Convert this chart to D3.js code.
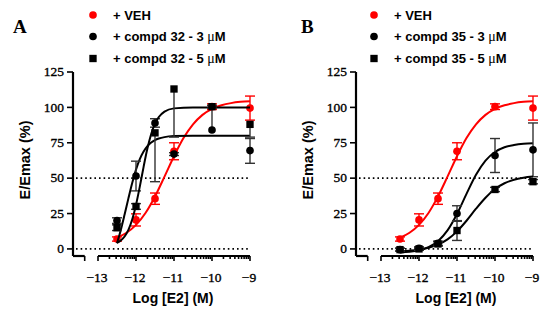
<!DOCTYPE html>
<html lang="en">
<head>
    <meta charset="UTF-8">
    <title>E/Emax vs Log [E2]</title>
    <script src="https://cdn.jsdelivr.net/npm/d3@7"></script>
    <style>
        body { margin: 0; background: #fff; }
        .axis .domain { stroke: #000; stroke-width: 2.2px; }
        .axis .tick line { stroke: #000; stroke-width: 1.6px; }
        .axis .tick text {
            fill: #000;
            stroke: #000;
            stroke-width: 0.35px;
            font-family: "Liberation Serif", "Times New Roman", serif;
            font-size: 13.5px;
        }
    </style>
</head>
<body>
    <svg id="chart" width="550" height="320"></svg>
    <script>
        // Data (log molar E2, response in %)
        const doseLog = [-12.5, -12, -11.5, -11, -10, -9];

        const vehMean = [7, 20.5, 35.5, 69, 100.5, 99.5];
        const vehSem = [1.5, 4.3, 4, 6, 2, 8.5];

        const c32LoMean = [20, 51.5, 89, 67, 84, 69.5];
        const c32LoUp = [2, 10.5, 3, 1, 16, 8.5];
        const c32LoDown = [2, 10.5, 3, 1, 0, 9];

        const c32HiMean = [15, 30, 82, 113, 100.5, 88];
        const c32HiUp = [2, 2, 0, 0, 1, 0];
        const c32HiDown = [2, 2, 34.5, 34, 1, 9];

        const c35LoMean = [-0.5, 0.5, 4, 25, 66, 70];
        const c35LoSem = [1, 1, 1.5, 5.5, 12, 19];

        const c35HiMean = [-0.5, 0, 3.5, 13, 42, 47.5];
        const c35HiSem = [1, 1, 1.5, 7, 1.5, 1.5];

        // Fitted curves
        const fitX = [-12.5, -12.25, -12, -11.75, -11.5, -11.25, -11, -10.75, -10.5, -10.25, -10, -9.75, -9.5, -9.25, -9];
        const fitXSteep = [-12.5, -12.4, -12.3, -12.2, -12.1, -12, -11.9, -11.8, -11.7, -11.6, -11.5, -11.4, -11.25, -11, -10.5, -10, -9.5, -9];
        const vehFit = [7.9, 11.4, 17.0, 25.4, 37.1, 51.1, 65.5, 78.3, 88.0, 94.7, 99.0, 101.5, 103.0, 103.9, 104.4];
        const c32LoFit = [4.0, 13.4, 24.3, 35.7, 46.6, 56.0, 63.4, 68.8, 72.6, 75.2, 76.9, 78.0, 79.0, 79.7, 80, 80, 80, 80];
        const c32HiFit = [4.3, 6.0, 8.8, 13.5, 20.8, 31.1, 44.0, 58.0, 70.9, 81.2, 88.5, 93.2, 97.0, 99.3, 100, 100, 100, 100];
        const c35LoFit = [-2.5, -2.0, -0.9, 1.3, 5.5, 13.1, 24.7, 38.9, 52.4, 62.4, 68.5, 71.8, 73.4, 74.3, 74.7];
        const c35HiFit = [-1.6, -1.2, -0.5, 0.8, 3.0, 6.7, 12.4, 19.9, 28.4, 36.2, 42.3, 46.4, 48.9, 50.3, 51.1];

        const majorTicks = [-13, -12, -11, -10, -9];
        const yTicks = [0, 25, 50, 75, 100, 125];

        const RED = '#ff0000';
        const BLACK = '#000000';
        const SERIF = '"Liberation Serif", "Times New Roman", serif';
        const SANS = '"Liberation Sans", Arial, sans-serif';

        const panels = [
            {
                letter: 'A', axisX: 73, startX: 98, letterX: 13, legendX: 93,
                series: [
                    { name: '+ VEH', color: RED, shape: 'circle', mean: vehMean, up: vehSem, down: vehSem, fx: fitX, fy: vehFit },
                    { name: '+ compd 32 - 3 ', color: BLACK, shape: 'circle', mean: c32LoMean, up: c32LoUp, down: c32LoDown, fx: fitXSteep, fy: c32LoFit },
                    { name: '+ compd 32 - 5 ', color: BLACK, shape: 'square', mean: c32HiMean, up: c32HiUp, down: c32HiDown, fx: fitXSteep, fy: c32HiFit }
                ]
            },
            {
                letter: 'B', axisX: 356, startX: 381, letterX: 301, legendX: 374,
                series: [
                    { name: '+ VEH', color: RED, shape: 'circle', mean: vehMean, up: vehSem, down: vehSem, fx: fitX, fy: vehFit },
                    { name: '+ compd 35 - 3 ', color: BLACK, shape: 'circle', mean: c35LoMean, up: c35LoSem, down: c35LoSem, fx: fitX, fy: c35LoFit },
                    { name: '+ compd 35 - 5 ', color: BLACK, shape: 'square', mean: c35HiMean, up: c35HiSem, down: c35HiSem, fx: fitX, fy: c35HiFit }
                ]
            }
        ];

        const svg = d3.select('#chart');

        // shared y scale: x axis sits a bit below zero
        const y = d3.scaleLinear().domain([-5, 125]).range([256, 72]);

        function marker(shape) {
            return d3.symbol()
                .type(shape === 'square' ? d3.symbolSquare : d3.symbolCircle)
                .size(shape === 'square' ? 54 : 46)();
        }

        function drawPanel(p) {
            const g = svg.append('g');
            const x = d3.scaleLinear().domain([-13, -9]).range([p.startX, p.startX + 152]);

            // panel letter
            g.append('text')
                .attr('x', p.letterX)
                .attr('y', 33)
                .style('font-family', SERIF)
                .style('font-size', '19px')
                .style('font-weight', 'bold')
                .text(p.letter);

            // legend
            const legendRows = [19.5, 41, 63];
            p.series.forEach((s, i) => {
                g.append('path')
                    .attr('d', marker(s.shape))
                    .attr('transform', `translate(${p.legendX},${legendRows[i] - 4.5})`)
                    .attr('fill', s.color);
                const t = g.append('text')
                    .attr('x', p.legendX + 20)
                    .attr('y', legendRows[i])
                    .style('font-family', SANS)
                    .style('font-weight', 'bold')
                    .style('font-size', '13px')
                    .text(s.name);
                if (i > 0) {
                    t.append('tspan').style('font-family', SERIF).style('font-weight', 'normal').style('font-size', '14px').text('μ');
                    t.append('tspan').text('M');
                }
            });

            // reference lines at 0 and 50
            [0, 50].forEach(v => {
                g.append('line')
                    .attr('x1', p.axisX + 3)
                    .attr('x2', x(-9))
                    .attr('y1', y(v))
                    .attr('y2', y(v))
                    .attr('stroke', BLACK)
                    .attr('stroke-width', 1.6)
                    .attr('stroke-dasharray', '1.6,3');
            });

            // y axis
            g.append('g')
                .attr('class', 'axis')
                .attr('transform', `translate(${p.axisX},0)`)
                .call(d3.axisLeft(y).tickValues(yTicks).tickSize(6).tickSizeOuter(0).tickPadding(3).offset(0));

            // x axis: short piece before the break, then the log decades
            const xBreak = x.copy().domain([x.invert(p.axisX), -13.35]).range([p.axisX, x(-13.35)]);
            g.append('g')
                .attr('class', 'axis')
                .attr('transform', 'translate(0,256)')
                .call(d3.axisBottom(xBreak).tickValues([-13.35]).tickFormat('').tickSize(5).tickSizeOuter(0).offset(0));

            g.append('g')
                .attr('class', 'axis')
                .attr('transform', 'translate(0,256)')
                .call(d3.axisBottom(x).tickValues(majorTicks).tickFormat(d3.format('d')).tickSize(5).tickSizeOuter(0).tickPadding(11).offset(0))
                .selectAll('.tick text').attr('dx', -1);

            const minorTicks = [];
            majorTicks.slice(0, -1).forEach(d => {
                for (let k = 2; k <= 9; k++) minorTicks.push(d + Math.log10(k));
            });
            g.append('g')
                .attr('class', 'axis')
                .attr('transform', 'translate(0,256)')
                .call(d3.axisBottom(x).tickValues(minorTicks).tickFormat('').tickSize(3).offset(0))
                .select('.domain').remove();

            // axis titles
            g.append('text')
                .attr('transform', `translate(${p.axisX - 43},160) rotate(-90)`)
                .attr('text-anchor', 'middle')
                .style('font-family', SANS)
                .style('font-weight', 'bold')
                .style('font-size', '14.5px')
                .text('E/Emax (%)');

            g.append('text')
                .attr('x', (x(-13) + x(-9)) / 2 - 1)
                .attr('y', 303)
                .attr('text-anchor', 'middle')
                .style('font-family', SANS)
                .style('font-weight', 'bold')
                .style('font-size', '14px')
                .text('Log [E2] (M)');

            // series: fitted curve, error bars, points
            const line = d3.line().curve(d3.curveMonotoneX);
            p.series.forEach(s => {
                g.append('path')
                    .attr('d', line(s.fx.map((d, i) => [x(d), y(s.fy[i])])))
                    .attr('fill', 'none')
                    .attr('stroke', s.color)
                    .attr('stroke-width', 2);

                const bars = g.append('g')
                    .attr('stroke', s.color === RED ? RED : '#333')
                    .attr('stroke-width', 1.4);
                doseLog.forEach((d, i) => {
                    const cx = x(d);
                    const top = y(s.mean[i] + s.up[i]);
                    const bot = y(s.mean[i] - s.down[i]);
                    bars.append('line').attr('x1', cx).attr('x2', cx).attr('y1', top).attr('y2', bot);
                    if (s.up[i] > 0) bars.append('line').attr('x1', cx - 5).attr('x2', cx + 5).attr('y1', top).attr('y2', top);
                    if (s.down[i] > 0) bars.append('line').attr('x1', cx - 5).attr('x2', cx + 5).attr('y1', bot).attr('y2', bot);
                });

                g.selectAll(null)
                    .data(doseLog)
                    .enter()
                    .append('path')
                    .attr('d', marker(s.shape))
                    .attr('transform', (d, i) => `translate(${x(d)},${y(s.mean[i])})`)
                    .attr('fill', s.color);
            });
        }

        panels.forEach(drawPanel);
    </script>
</body>
</html>
